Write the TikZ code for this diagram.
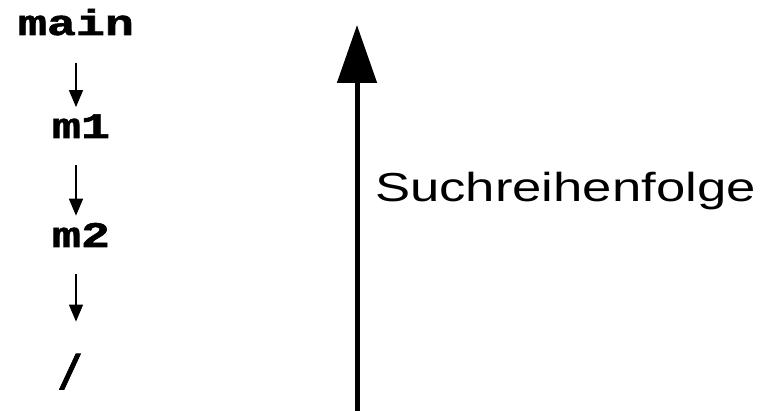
\documentclass[tikz,border=0pt]{standalone}
\usepackage{fontspec}
\setmainfont{Liberation Sans}
\newfontfamily\codefont[BoldFeatures={FakeBold=1.5}]{Liberation Mono}
\usetikzlibrary{arrows.meta}

\newcommand{\wider}[2]{\scalebox{#1}[1]{#2}}

\begin{document}
\begin{tikzpicture}[
  x=1pt, y=-1pt,
  code/.style={font=\codefont\bfseries\fontsize{36}{38}\selectfont,inner sep=0pt,anchor=base},
  lbl/.style={font=\fontsize{40.5}{42}\selectfont,inner sep=0pt,anchor=base west},
  arr/.style={-{Triangle[length=17pt,width=14pt]},line width=1.5pt,shorten <=27pt,shorten >=7pt},
  bigarr/.style={-{Triangle[length=58pt,width=39pt]},line width=5pt}
]
\useasboundingbox (0,0) rectangle (763,411);
% Suchpfad
\node[code] (main) at (76,35) {\wider{1.34}{main}};
\node[code] (m1) at (81,138) {\wider{1.34}{m1}};
\node[code] (m2) at (81,247) {\wider{1.34}{m2}};
\node[code] (root) at (70,389) {\scalebox{1.15}[1.35]{/}};
\draw[arr] (main.south) -- (main.south |- m1.north);
\draw[arr] (m1.south -| main.south) -- (main.south |- m2.north);
\draw[arr,shorten >=32pt] (m2.south -| main.south) -- (main.south |- root.north);
% Reihenfolge
\coordinate (bottom) at (357,411);
\coordinate (top) at (357,25);
\draw[bigarr] (bottom) -- (top);
\node[lbl] (order) at (375,202) {\wider{1.3}{Suchreihenfolge}};
\end{tikzpicture}
\end{document}
